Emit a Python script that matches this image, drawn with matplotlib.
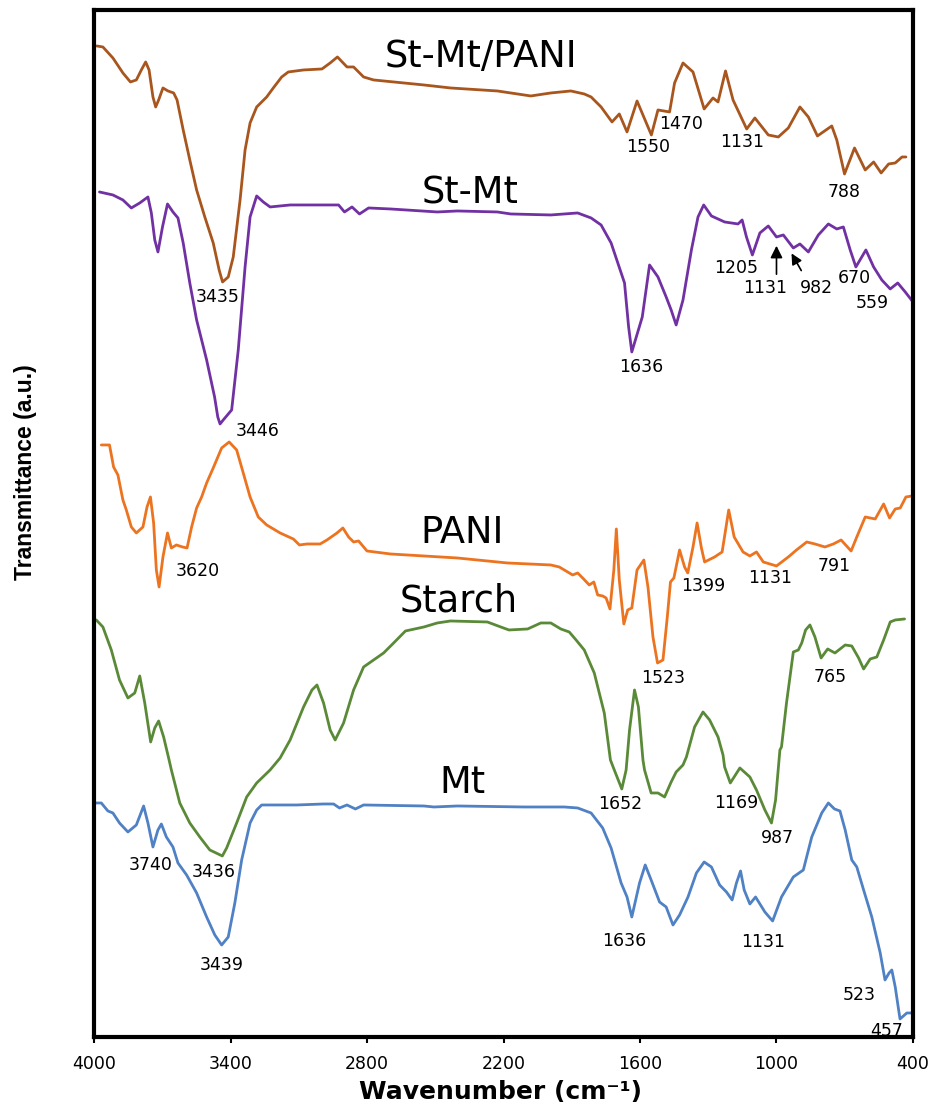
import matplotlib
matplotlib.use("Agg")
import matplotlib.pyplot as plt

# FTIR spectra, stacked with vertical offsets (transmittance in arbitrary units)
wn_stmt_pani = [3988, 3961, 3917, 3873, 3840, 3814, 3792, 3773, 3758, 3741, 3729, 3716,
                3697, 3675, 3650, 3635, 3608, 3579, 3549, 3513, 3476, 3450, 3435, 3410,
                3388, 3358, 3336, 3314, 3285, 3241, 3212, 3175, 3146, 3079, 2998, 2962,
                2930, 2888, 2859, 2815, 2771, 2550, 2433, 2227, 2080, 1992, 1904, 1845,
                1815, 1771, 1723, 1691, 1657, 1613, 1550, 1521, 1470, 1448, 1411, 1367,
                1318, 1279, 1257, 1224, 1191, 1131, 1095, 1036, 992, 948, 897, 860, 820,
                757, 735, 701, 657, 610, 573, 540, 507, 478, 448, 431]
t_stmt_pani = [99.1, 99.0, 97.9, 96.4, 95.5, 95.7, 96.7, 97.5, 96.7, 94.0, 93.0, 93.7,
               94.9, 94.6, 94.4, 93.7, 90.7, 87.7, 84.7, 82.0, 79.4, 76.7, 75.5, 76.0,
               78.0, 83.7, 88.7, 91.4, 93.0, 94.0, 94.9, 96.0, 96.5, 96.7, 96.8, 97.4,
               98.0, 97.0, 97.0, 96.0, 95.7, 95.2, 94.9, 94.6, 94.1, 94.4, 94.6, 94.3,
               94.0, 93.0, 91.5, 92.3, 90.5, 93.6, 90.2, 92.7, 92.5, 95.4, 97.4, 96.5,
               92.8, 93.9, 93.5, 96.6, 93.7, 90.8, 91.9, 90.2, 90.0, 90.9, 93.0, 92.0,
               90.1, 91.1, 89.7, 86.3, 88.9, 86.7, 87.5, 86.4, 87.3, 87.4, 88.0, 88.0]

wn_stmt = [3976, 3917, 3873, 3836, 3799, 3763, 3748, 3733, 3719, 3699, 3677, 3653, 3631,
           3608, 3579, 3549, 3505, 3470, 3456, 3446, 3432, 3395, 3366, 3336, 3314, 3285,
           3256, 3226, 3138, 2991, 2925, 2899, 2866, 2833, 2793, 2697, 2491, 2403, 2227,
           2168, 1992, 1933, 1874, 1815, 1771, 1727, 1668, 1650, 1636, 1590, 1558, 1521,
           1485, 1463, 1441, 1411, 1374, 1345, 1320, 1286, 1228, 1169, 1151, 1132, 1106,
           1073, 1036, 1000, 970, 926, 897, 860, 816, 772, 735, 706, 676, 651, 607, 573,
           537, 500, 467, 434, 400]
t_stmt = [84.5, 84.2, 83.7, 82.9, 83.4, 84.0, 82.4, 79.7, 78.5, 81.0, 83.3, 82.5, 81.9,
          79.4, 75.4, 71.7, 67.7, 64.0, 62.0, 61.3, 61.7, 62.7, 68.7, 77.0, 82.0, 84.1,
          83.5, 83.0, 83.2, 83.2, 83.2, 82.5, 83.0, 82.3, 82.9, 82.8, 82.5, 82.6, 82.5,
          82.3, 82.2, 82.3, 82.4, 81.9, 81.2, 79.4, 75.4, 71.0, 68.5, 72.0, 77.2, 76.0,
          74.0, 72.7, 71.2, 73.7, 78.7, 82.0, 83.2, 82.1, 81.5, 81.3, 81.7, 80.0, 78.2,
          80.4, 81.1, 80.0, 80.2, 78.9, 79.3, 78.5, 80.2, 81.3, 80.8, 81.0, 78.7, 77.0,
          78.7, 77.0, 75.7, 74.8, 75.4, 74.5, 73.5]

wn_pani = [3968, 3932, 3914, 3895, 3873, 3858, 3836, 3814, 3785, 3767, 3752, 3738, 3726,
           3714, 3697, 3677, 3660, 3638, 3611, 3591, 3571, 3549, 3527, 3505, 3476, 3439,
           3406, 3373, 3344, 3314, 3278, 3241, 3182, 3124, 3097, 3064, 3006, 2976, 2932,
           2906, 2881, 2859, 2837, 2800, 2697, 2550, 2403, 2183, 1992, 1955, 1918, 1896,
           1874, 1852, 1823, 1803, 1786, 1764, 1749, 1732, 1715, 1704, 1691, 1671, 1654,
           1636, 1613, 1583, 1565, 1543, 1523, 1499, 1480, 1466, 1451, 1426, 1404, 1390,
           1367, 1349, 1330, 1316, 1272, 1239, 1210, 1186, 1147, 1117, 1088, 1058, 1000,
           948, 912, 867, 831, 787, 750, 716, 672, 647, 610, 566, 529, 503, 478, 456,
           431, 404]
t_pani = [59.2, 59.2, 57.0, 56.2, 53.7, 52.7, 51.0, 50.4, 51.0, 53.0, 54.0, 51.4, 46.7,
          45.0, 48.0, 50.4, 48.9, 49.2, 49.0, 48.9, 51.0, 52.9, 54.0, 55.4, 56.9, 58.9,
          59.5, 58.7, 56.4, 54.0, 52.0, 51.2, 50.4, 49.8, 49.2, 49.3, 49.3, 49.7, 50.4,
          50.9, 50.0, 49.5, 49.6, 48.6, 48.3, 48.1, 47.9, 47.4, 47.2, 47.0, 46.5, 46.2,
          46.4, 45.9, 45.2, 45.5, 44.2, 44.1, 43.9, 42.8, 46.7, 50.8, 45.7, 41.3, 42.7,
          42.9, 46.7, 47.7, 45.0, 40.0, 37.4, 37.7, 42.0, 45.5, 45.9, 48.7, 47.0, 46.4,
          49.0, 51.4, 48.9, 47.5, 48.0, 48.5, 52.7, 50.0, 48.5, 48.1, 48.5, 47.5, 47.1,
          48.0, 48.7, 49.5, 49.3, 49.0, 49.3, 49.7, 48.6, 50.0, 52.0, 51.8, 53.3, 51.9,
          52.8, 52.9, 54.0, 54.1]

wn_starch = [3990, 3961, 3924, 3888, 3851, 3821, 3799, 3777, 3751, 3733, 3716, 3694,
             3670, 3660, 3623, 3579, 3535, 3491, 3436, 3417, 3373, 3329, 3285, 3226,
             3182, 3138, 3079, 3042, 3020, 2991, 2962, 2940, 2903, 2859, 2815, 2771,
             2727, 2683, 2631, 2550, 2491, 2433, 2271, 2212, 2176, 2094, 2036, 1992,
             1948, 1911, 1881, 1845, 1801, 1757, 1730, 1713, 1680, 1661, 1646, 1624,
             1607, 1587, 1580, 1551, 1521, 1492, 1463, 1441, 1411, 1396, 1360, 1323,
             1294, 1257, 1235, 1228, 1203, 1161, 1117, 1088, 1051, 1022, 1004, 985, 978,
             956, 926, 904, 889, 872, 853, 831, 804, 775, 743, 698, 669, 639, 617, 588,
             559, 529, 500, 478, 437]
t_starch = [41.7, 41.0, 38.7, 35.7, 33.9, 34.4, 36.1, 33.4, 29.5, 30.9, 31.6, 30.0,
            27.7, 26.7, 23.4, 21.4, 20.0, 18.7, 18.1, 18.9, 21.4, 24.0, 25.4, 26.7,
            27.9, 29.7, 33.0, 34.7, 35.2, 33.4, 30.7, 29.7, 31.4, 34.7, 37.0, 37.7,
            38.4, 39.4, 40.6, 41.0, 41.4, 41.6, 41.5, 41.0, 40.7, 40.8, 41.4, 41.4,
            40.8, 40.5, 39.7, 38.7, 36.4, 32.4, 27.7, 26.7, 24.8, 26.7, 30.7, 34.7,
            33.0, 27.7, 26.7, 24.4, 24.4, 24.0, 25.5, 26.5, 27.2, 28.0, 31.0, 32.5,
            31.7, 30.0, 28.2, 27.0, 25.4, 26.9, 26.0, 24.7, 22.7, 21.4, 23.7, 28.7, 29.0,
            33.4, 38.5, 38.7, 39.4, 40.7, 41.2, 40.0, 37.9, 38.8, 38.4, 39.2, 39.1, 37.9,
            36.8, 37.8, 38.0, 39.7, 41.5, 41.7, 41.8]

wn_mt = [3998, 3968, 3939, 3917, 3888, 3851, 3814, 3782, 3763, 3741, 3719, 3704, 3682,
         3653, 3631, 3593, 3549, 3505, 3469, 3439, 3410, 3381, 3351, 3314, 3285, 3263,
         3197, 3109, 2991, 2947, 2921, 2888, 2851, 2815, 2550, 2506, 2403, 2109, 1992,
         1933, 1874, 1815, 1764, 1727, 1683, 1657, 1636, 1602, 1577, 1551, 1514, 1485,
         1455, 1426, 1389, 1352, 1318, 1286, 1250, 1220, 1195, 1176, 1158, 1142, 1117,
         1092, 1051, 1017, 978, 926, 882, 845, 801, 772, 745, 721, 698, 669, 647, 617,
         581, 544, 523, 505, 493, 478, 463, 457, 427, 404]
t_mt = [23.4, 23.4, 22.6, 22.4, 21.4, 20.5, 21.2, 23.1, 21.4, 19.0, 20.7, 21.3, 20.0,
        19.0, 17.4, 16.2, 14.4, 12.0, 10.2, 9.2, 10.0, 13.4, 17.7, 21.4, 22.7, 23.2,
        23.2, 23.2, 23.3, 23.3, 22.9, 23.2, 22.8, 23.2, 23.1, 23.0, 23.1, 23.0, 23.0,
        23.0, 22.9, 22.4, 20.9, 18.9, 15.4, 14.0, 12.0, 15.4, 17.2, 15.7, 13.5, 13.0,
        11.2, 12.2, 14.0, 16.4, 17.5, 17.0, 15.2, 14.5, 13.7, 15.4, 16.6, 14.7, 13.3,
        14.0, 12.5, 11.6, 14.0, 16.0, 16.7, 20.0, 22.4, 23.4, 22.8, 22.6, 20.7, 17.7,
        17.0, 14.7, 12.0, 8.4, 5.7, 6.4, 6.7, 5.0, 2.7, 1.8, 2.4, 2.4]

samples = ["St-Mt/PANI", "St-Mt", "PANI", "Starch", "Mt"]
colors = ["#A8561E", "#7131A3", "#EC7420", "#5A8A38", "#4F81C4"]

# sample name positions (wavenumber, baseline)
name_pos = [(2300, 97.0), (2349, 83.3), (2384, 49.4), (2397, 42.5), (2380, 24.4)]

# band labels: text, wavenumber, baseline
peak_labels = [
    ("3435", 3455, 73.5), ("1550", 1564, 88.5), ("1470", 1418, 90.8),
    ("1131", 1150, 89.0), ("788", 704, 84.0),
    ("3446", 3279, 60.1), ("1636", 1595, 66.5), ("1205", 1176, 76.4),
    ("1131", 1048, 74.4), ("982", 823, 74.4), ("670", 656, 75.4), ("559", 581, 72.9),
    ("3620", 3544, 46.1), ("1523", 1498, 35.4), ("1399", 1322, 44.6),
    ("1131", 1026, 45.4), ("791", 748, 46.6),
    ("765", 766, 35.5), ("1652", 1687, 22.8), ("1169", 1176, 22.9), ("987", 995, 19.4),
    ("3740", 3751, 16.7), ("3436", 3473, 16.0), ("3439", 3438, 6.7),
    ("1636", 1670, 9.1), ("1131", 1057, 9.0), ("523", 638, 3.7), ("457", 515, 0.1),
]

xticks = [4000, 3400, 2800, 2200, 1600, 1000, 400]

fig = plt.figure(figsize=(9.3, 11.13), dpi=100)
ax = fig.add_axes([0.1011, 0.0683, 0.8806, 0.9223])

series = [(wn_stmt_pani, t_stmt_pani), (wn_stmt, t_stmt), (wn_pani, t_pani),
          (wn_starch, t_starch), (wn_mt, t_mt)]
for (x, y), c in zip(series, colors):
    ax.plot(x, y, color=c, linewidth=2.0, solid_joinstyle="round", solid_capstyle="round")

for name, (x, y) in zip(samples, name_pos):
    ax.text(x, y, name, fontsize=26.5, ha="center", va="baseline", color="black")

for txt, x, y in peak_labels:
    ax.text(x, y, txt, fontsize=12.5, ha="center", va="baseline", color="black")

# arrows pointing at the weak St-Mt bands
ax.annotate("", xy=(1000, 79.4), xytext=(1000, 76.0),
            arrowprops=dict(arrowstyle="-|>", color="black", lw=1.2, mutation_scale=18))
ax.annotate("", xy=(940, 78.6), xytext=(885, 76.4),
            arrowprops=dict(arrowstyle="-|>", color="black", lw=1.2, mutation_scale=16))

ax.set_xlim(4000, 400)
ax.set_ylim(0, 102.65)
ax.set_xticks(xticks)
ax.set_xticklabels([str(v) for v in xticks], fontsize=12.5)
ax.set_yticks([])
ax.tick_params(axis="x", direction="out", length=4, width=1.5, pad=9)
for s in ax.spines.values():
    s.set_linewidth(3)
    s.set_color("black")

fig.text(0.538, 0.013, "Wavenumber (cm⁻¹)", fontsize=18, fontweight="bold",
         ha="center", va="baseline")
fig.text(0.027, 0.576, "Transmittance (a.u.)", fontsize=16.5, fontweight="bold",
         family="Liberation Sans", rotation=90, ha="center", va="center")

fig.savefig("out.png", dpi=100)
